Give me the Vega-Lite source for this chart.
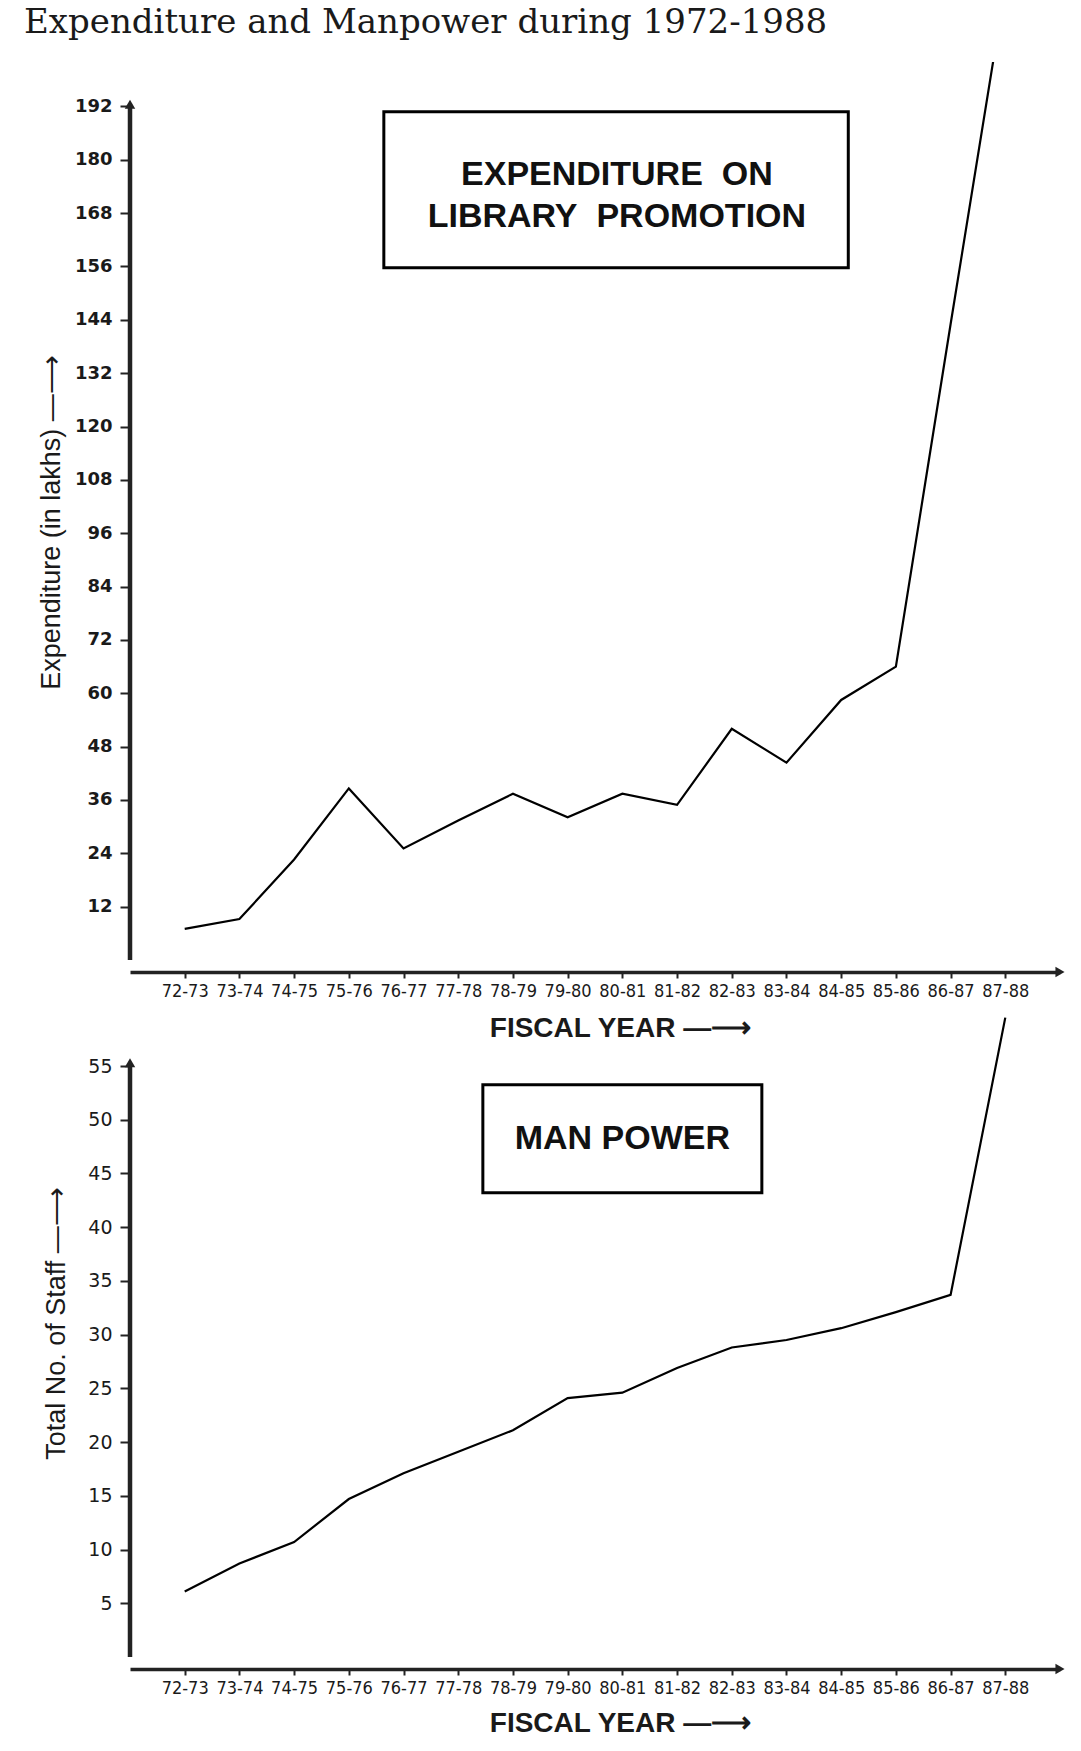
{
  "$schema": "https://vega.github.io/schema/vega-lite/v6.json",
  "background": "white",
  "padding": {"left": 24, "top": 6, "right": 0, "bottom": 0},
  "bounds": "flush",
  "title": {"text": "Expenditure and Manpower during 1972-1988", "anchor": "start", "frame": "group", "font": "DejaVu Serif", "fontSize": 34, "fontWeight": "normal", "color": "#1a1a1a", "offset": 22, "dx": -106},
  "spacing": 106,
  "config": {
    "view": {"stroke": null},
    "axis": {"grid": false, "domainColor": "#222", "tickColor": "#222", "labelColor": "#1a1a1a", "titleColor": "#1a1a1a"}
  },
  "vconcat": [
    {
      "width": 930,
      "height": 898,
      "data": {"values": [
        {"start": 72, "year": "72-73", "expenditure": 7.0},
        {"start": 73, "year": "73-74", "expenditure": 9.2},
        {"start": 74, "year": "74-75", "expenditure": 22.6},
        {"start": 75, "year": "75-76", "expenditure": 38.6},
        {"start": 76, "year": "76-77", "expenditure": 25.1},
        {"start": 77, "year": "77-78", "expenditure": 31.4},
        {"start": 78, "year": "78-79", "expenditure": 37.4},
        {"start": 79, "year": "79-80", "expenditure": 32.1},
        {"start": 80, "year": "80-81", "expenditure": 37.4},
        {"start": 81, "year": "81-82", "expenditure": 34.9},
        {"start": 82, "year": "82-83", "expenditure": 52.0},
        {"start": 83, "year": "83-84", "expenditure": 44.4},
        {"start": 84, "year": "84-85", "expenditure": 58.5},
        {"start": 85, "year": "85-86", "expenditure": 66.0},
        {"start": 86, "year": "86-87", "expenditure": 143.0},
        {"start": 87, "year": "87-88", "expenditure": 219.0}
      ]},
      "layer": [
        {
          "mark": {"type": "line", "color": "black", "strokeWidth": 2.2, "clip": true},
          "encoding": {
            "x": {"field": "start", "type": "quantitative", "scale": {"domain": [71, 88], "nice": false},
              "axis": {"values": [72,73,74,75,76,77,78,79,80,81,82,83,84,85,86,87], "labelExpr": "datum.value + '-' + (datum.value + 1)", "offset": 12, "domainWidth": 3.5, "tickSize": 6, "tickWidth": 2, "labelFont": "'Liberation Sans Narrow', 'DejaVu Sans Condensed', 'Liberation Sans', sans-serif", "labelFontSize": 18, "labelPadding": 4,
                "title": "FISCAL YEAR —⟶", "titleFont": "Liberation Sans", "titleFontSize": 28, "titleFontWeight": "bold", "titlePadding": 14, "titleX": 490}},
            "y": {"field": "expenditure", "type": "quantitative", "scale": {"domain": [0, 202], "nice": false},
              "axis": {"values": [12,24,36,48,60,72,84,96,108,120,132,144,156,168,180,192], "domain": false, "tickSize": 10, "tickWidth": 2, "labelFont": "DejaVu Sans", "labelFontSize": 18, "labelFontWeight": "bold", "labelPadding": 8,
                "title": "Expenditure (in lakhs) —⟶", "titleFont": "Liberation Sans", "titleFontSize": 27, "titleFontWeight": "normal", "titlePadding": 9, "titleY": 460}}
          }
        },
        {
          "data": {"values": [{}]},
          "mark": {"type": "rule", "color": "#222", "strokeWidth": 4.5},
          "encoding": {
            "x": {"datum": 71, "type": "quantitative"},
            "y": {"datum": 0, "type": "quantitative"}, "y2": {"datum": 192}
          }
        },
        {
          "data": {"values": [{}]},
          "mark": {"type": "point", "shape": "triangle-up", "filled": true, "color": "#222", "size": 110, "opacity": 1},
          "encoding": {
            "x": {"datum": 71, "type": "quantitative"},
            "y": {"datum": 192.5, "type": "quantitative"}
          }
        },
        {
          "data": {"values": [{}]},
          "mark": {"type": "point", "shape": "triangle-right", "filled": true, "color": "#222", "size": 110, "opacity": 1, "clip": false},
          "encoding": {
            "x": {"datum": 88, "type": "quantitative"},
            "y": {"datum": -2.7, "type": "quantitative"}
          }
        },
        {
          "data": {"values": [{}]},
          "mark": {"type": "rect", "fill": "white", "stroke": "black", "strokeWidth": 3},
          "encoding": {
            "x": {"datum": 75.64, "type": "quantitative"}, "x2": {"datum": 84.13},
            "y": {"datum": 190.8, "type": "quantitative"}, "y2": {"datum": 155.7}
          }
        },
        {
          "data": {"values": [{}]},
          "mark": {"type": "text", "font": "Liberation Sans", "fontSize": 34, "fontWeight": "bold", "color": "#111", "align": "center", "baseline": "middle", "lineHeight": 42},
          "encoding": {
            "x": {"datum": 79.9, "type": "quantitative"},
            "y": {"datum": 176.5, "type": "quantitative"},
            "text": {"value": ["EXPENDITURE\u00a0\u00a0ON", "LIBRARY\u00a0\u00a0PROMOTION"]}
          }
        }
      ]
    },
    {
      "width": 930,
      "height": 591,
      "data": {"values": [
        {"start": 72, "year": "72-73", "staff": 6.1},
        {"start": 73, "year": "73-74", "staff": 8.7},
        {"start": 74, "year": "74-75", "staff": 10.7},
        {"start": 75, "year": "75-76", "staff": 14.7},
        {"start": 76, "year": "76-77", "staff": 17.1},
        {"start": 77, "year": "77-78", "staff": 19.1},
        {"start": 78, "year": "78-79", "staff": 21.1},
        {"start": 79, "year": "79-80", "staff": 24.1},
        {"start": 80, "year": "80-81", "staff": 24.6},
        {"start": 81, "year": "81-82", "staff": 26.9},
        {"start": 82, "year": "82-83", "staff": 28.8},
        {"start": 83, "year": "83-84", "staff": 29.5},
        {"start": 84, "year": "84-85", "staff": 30.6},
        {"start": 85, "year": "85-86", "staff": 32.1},
        {"start": 86, "year": "86-87", "staff": 33.7},
        {"start": 87, "year": "87-88", "staff": 59.5}
      ]},
      "layer": [
        {
          "mark": {"type": "line", "color": "black", "strokeWidth": 2.2},
          "encoding": {
            "x": {"field": "start", "type": "quantitative", "scale": {"domain": [71, 88], "nice": false},
              "axis": {"values": [72,73,74,75,76,77,78,79,80,81,82,83,84,85,86,87], "labelExpr": "datum.value + '-' + (datum.value + 1)", "offset": 12, "domainWidth": 3.5, "tickSize": 6, "tickWidth": 2, "labelFont": "'Liberation Sans Narrow', 'DejaVu Sans Condensed', 'Liberation Sans', sans-serif", "labelFontSize": 18, "labelPadding": 4,
                "title": "FISCAL YEAR —⟶", "titleFont": "Liberation Sans", "titleFontSize": 28, "titleFontWeight": "bold", "titlePadding": 12, "titleX": 490}},
            "y": {"field": "staff", "type": "quantitative", "scale": {"domain": [0, 55], "nice": false},
              "axis": {"values": [5,10,15,20,25,30,35,40,45,50,55], "domain": false, "tickSize": 10, "tickWidth": 2, "labelFont": "DejaVu Sans", "labelFontSize": 19, "labelFontWeight": "normal", "labelPadding": 8,
                "title": "Total No. of Staff —⟶", "titleFont": "Liberation Sans", "titleFontSize": 27, "titleFontWeight": "normal", "titlePadding": 17, "titleY": 257}}
          }
        },
        {
          "data": {"values": [{}]},
          "mark": {"type": "rule", "color": "#222", "strokeWidth": 4.5},
          "encoding": {
            "x": {"datum": 71, "type": "quantitative"},
            "y": {"datum": 0, "type": "quantitative"}, "y2": {"datum": 55}
          }
        },
        {
          "data": {"values": [{}]},
          "mark": {"type": "point", "shape": "triangle-up", "filled": true, "color": "#222", "size": 110, "opacity": 1},
          "encoding": {
            "x": {"datum": 71, "type": "quantitative"},
            "y": {"datum": 55.3, "type": "quantitative"}
          }
        },
        {
          "data": {"values": [{}]},
          "mark": {"type": "point", "shape": "triangle-right", "filled": true, "color": "#222", "size": 110, "opacity": 1, "clip": false},
          "encoding": {
            "x": {"datum": 88, "type": "quantitative"},
            "y": {"datum": -1.12, "type": "quantitative"}
          }
        },
        {
          "data": {"values": [{}]},
          "mark": {"type": "rect", "fill": "white", "stroke": "black", "strokeWidth": 3},
          "encoding": {
            "x": {"datum": 77.45, "type": "quantitative"}, "x2": {"datum": 82.55},
            "y": {"datum": 53.26, "type": "quantitative"}, "y2": {"datum": 43.2}
          }
        },
        {
          "data": {"values": [{}]},
          "mark": {"type": "text", "font": "Liberation Sans", "fontSize": 34, "fontWeight": "bold", "color": "#111", "align": "center", "baseline": "middle"},
          "encoding": {
            "x": {"datum": 80.0, "type": "quantitative"},
            "y": {"datum": 48.2, "type": "quantitative"},
            "text": {"value": "MAN POWER"}
          }
        }
      ]
    }
  ]
}
